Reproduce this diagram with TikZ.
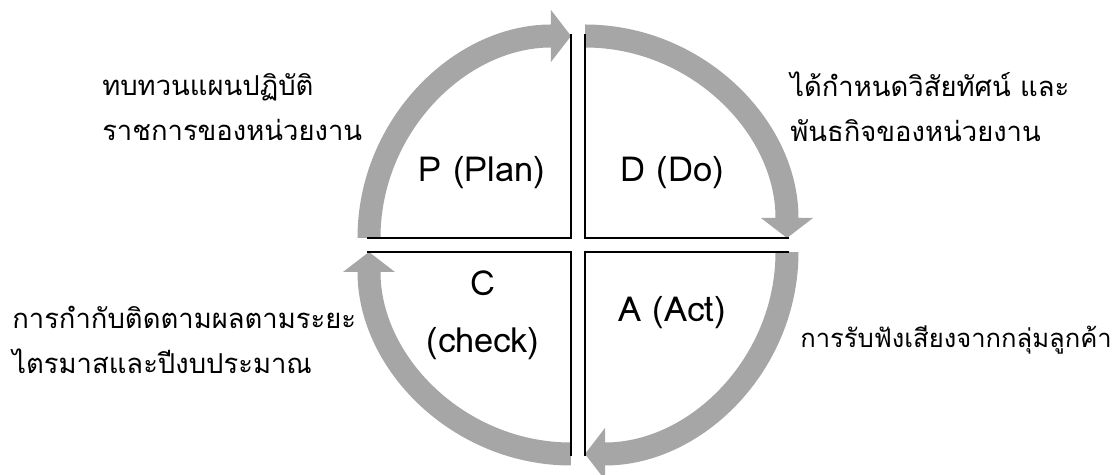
\documentclass[tikz,border=0pt]{standalone}
\usepackage{fontspec}
\setmainfont[Script=Thai]{Loma}
\usepackage{xcolor}
\usetikzlibrary{positioning, arrows.meta}

\definecolor{cyclegray}{RGB}{166,166,166}

\begin{document}
\begin{tikzpicture}[
    quadline/.style={draw=black, line width=1.4pt},
    cyclearc/.style={draw=cyclegray, line width=0.575cm,
        -{Triangle[width=1.3cm, length=0.5cm, line width=0pt]}},
    phase/.style={font=\fontsize{24.5}{28}\selectfont, inner sep=0pt},
    note/.style={font=\fontsize{19.5}{32}\selectfont, align=left, anchor=west, inner sep=0pt}
]
\useasboundingbox (-14.45,-5.75) rectangle (13.55,6.125);

% ---- Quadrant corners ----
\coordinate (tl) at (-0.175, 0.175);
\coordinate (tr) at ( 0.175, 0.175);
\coordinate (br) at ( 0.175,-0.175);
\coordinate (bl) at (-0.175,-0.175);

% ---- Cycle arcs (clockwise) ----
\draw[cyclearc] ([xshift=-5.05cm]tl) arc[start angle=180, end angle=90,   radius=5.05];  % P -> D
\draw[cyclearc] ([yshift= 5.05cm]tr) arc[start angle=90,  end angle=0,    radius=5.05];  % D -> A
\draw[cyclearc] ([xshift= 5.05cm]br) arc[start angle=0,   end angle=-90,  radius=5.05];  % A -> C
\draw[cyclearc] ([yshift=-5.05cm]bl) arc[start angle=-90, end angle=-180, radius=5.05];  % C -> P

% ---- Quadrant lines ----
\draw[quadline] ([xshift=-5.1cm]tl) -- (tl) -- ([yshift= 5.1cm]tl);
\draw[quadline] ([xshift= 5.1cm]tr) -- (tr) -- ([yshift= 5.1cm]tr);
\draw[quadline] ([xshift= 5.1cm]br) -- (br) -- ([yshift=-5.1cm]br);
\draw[quadline] ([xshift=-5.1cm]bl) -- (bl) -- ([yshift=-5.1cm]bl);

% ---- Phase labels ----
\node[phase] (plan)  at (-2.40, 1.80) {P (Plan)};
\node[phase] (do)    at ( 2.35, 1.80) {D (Do)};
\node[phase] (check) at (-2.375,-0.95) {C};
\node[phase, below=1.525cm of check.center, anchor=center] (checkname) {(check)};
\node[phase] (act)   at ( 2.35,-1.70) {A (Act)};

% ---- Notes ----
\node[note] (noteplan)  at (-11.9,  3.45) {ทบทวนแผนปฏิบัติ\\ราชการของหน่วยงาน};
\node[note] (notedo)    at (  5.3,  3.45) {ได้กำหนดวิสัยทัศน์ และ\\พันธกิจของหน่วยงาน};
\node[note] (notecheck) at (-14.15,-2.375) {การกำกับติดตามผลตามระยะ\\ไตรมาสและปีงบประมาณ};
\node[note, font=\fontsize{18.2}{32}\selectfont] (noteact) at (5.55,-2.375) {การรับฟังเสียงจากกลุ่มลูกค้า};

\end{tikzpicture}
\end{document}
